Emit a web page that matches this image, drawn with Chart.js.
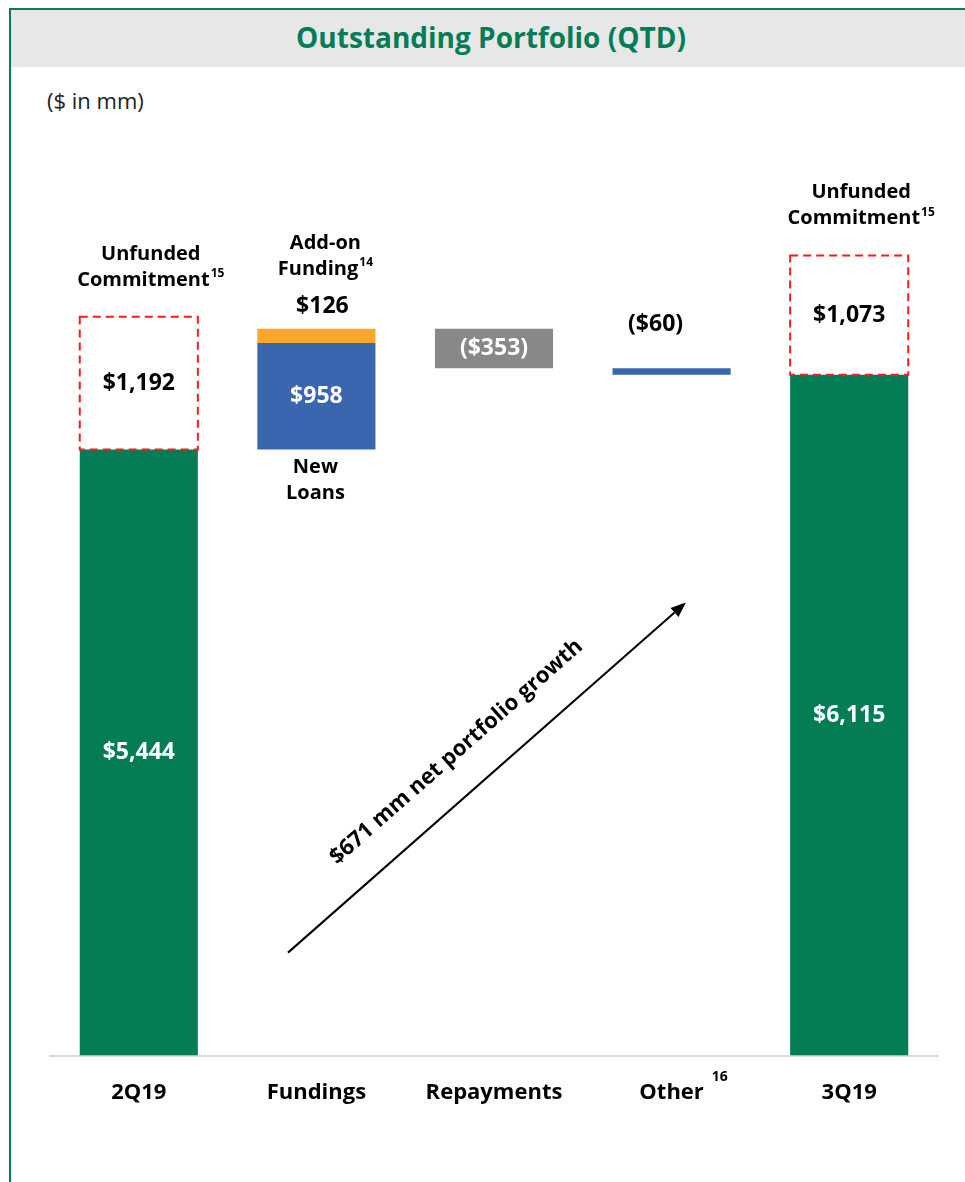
<!DOCTYPE html>
<html>
<head>
<meta charset="utf-8">
<script src="https://cdn.jsdelivr.net/npm/chart.js@4.4.0/dist/chart.umd.min.js"></script>
<style>
  html, body { margin: 0; padding: 0; background: #ffffff; }
  body { width: 965px; height: 1182px; position: relative; overflow: hidden; font-family: 'Open Sans', sans-serif; }
  .frame { position: absolute; left: 9px; top: 8px; width: 980px; height: 1200px;
           border-left: 2px solid #0B7A52; border-top: 2px solid #0B7A52; }
  .header { position: absolute; left: 11px; top: 10px; width: 960px; height: 57px; background: #E7E7E7;
            color: #047D57; font-weight: 700; font-size: 28px; text-align: center; line-height: 55px; }
  .units { position: absolute; left: 47px; top: 85px; font-size: 22px; color: #222; }
  canvas { position: absolute; left: 0; top: 0; }
</style>
</head>
<body>
<div class="frame"></div>
<div class="header">Outstanding Portfolio (QTD)</div>
<div class="units">($ in mm)</div>
<canvas id="chart" width="965" height="1182"></canvas>
<script>
// Quarter-over-quarter portfolio walk ($ in mm)
const categories = ['2Q19', 'Fundings', 'Repayments', 'Other', '3Q19'];
const startBalance = 5444;
const newLoans = 958;
const addOnFunding = 126;
const repayments = -353;
const other = -60;
const endBalance = 6115;
const unfunded = [1192, 1073];          // 2Q19, 3Q19
const netGrowthText = '$671 mm net portfolio growth';

// running levels of the walk
const afterNew = startBalance + newLoans;
const afterAddOn = afterNew + addOnFunding;
const afterRepay = afterAddOn + repayments;
const afterOther = afterRepay + other;

const GREEN = '#047D57', BLUE = '#3A66AF', ORANGE = '#F8A92A', GREY = '#888888', RED = '#FF1A1A';

const balanceData = [[0, startBalance], null, null, null, [0, endBalance]];
const unfundedData = [[startBalance, startBalance + unfunded[0]], null, null, null, [endBalance, endBalance + unfunded[1]]];
const newLoansData = [null, [startBalance, afterNew], null, null, null];
const addOnData = [null, [afterNew, afterAddOn], null, null, null];
const repayData = [null, null, [afterRepay, afterAddOn], null, null];
const otherData = [null, null, null, [afterOther, afterRepay], null];

const fmt = v => '$' + Math.abs(v).toLocaleString('en-US');
const fmtNeg = v => '(' + fmt(v) + ')';

// label specs: dataset index, category index, lines, placement, colour
const labelSpecs = [
  { ds: 0, i: 0, lines: [[fmt(startBalance)]], pos: 'center', color: '#fff', size: 23 },
  { ds: 0, i: 4, lines: [[fmt(endBalance)]], pos: 'center', color: '#fff', size: 23 },
  { ds: 1, i: 0, lines: [[fmt(unfunded[0])]], pos: 'center', color: '#000', size: 23 },
  { ds: 1, i: 4, lines: [[fmt(unfunded[1])]], pos: 'center', color: '#000', size: 23 },
  { ds: 1, i: 0, lines: [['Unfunded'], ['Commitment', '15']], pos: 'above', gap: 37, color: '#000', size: 20, dx: 12 },
  { ds: 1, i: 4, lines: [['Unfunded'], ['Commitment', '15']], pos: 'above', gap: 37, color: '#000', size: 20, dx: 12 },
  { ds: 2, i: 1, lines: [[fmt(newLoans)]], pos: 'center', color: '#fff', size: 23 },
  { ds: 2, i: 1, lines: [['New'], ['Loans']], pos: 'below', gap: 18, color: '#000', size: 20, dx: -1 },
  { ds: 3, i: 1, lines: [[fmt(addOnFunding)]], pos: 'above', gap: 22, color: '#000', size: 23, dx: 6 },
  { ds: 3, i: 1, lines: [['Add-on'], ['Funding', '14']], pos: 'above', gap: 60, color: '#000', size: 20, dx: 9 },
  { ds: 4, i: 2, lines: [[fmtNeg(repayments)]], pos: 'center', color: '#fff', size: 23 },
  { ds: 5, i: 3, lines: [[fmtNeg(other)]], pos: 'above', gap: 44, color: '#000', size: 23, dx: -16 }
];

const LINE_H = 26;

function drawRichLine(ctx, parts, cx, cy, size, color) {
  const mainFont = `700 ${size}px 'Open Sans', sans-serif`;
  const supFont = `700 ${Math.round(size * 0.62)}px 'Open Sans', sans-serif`;
  ctx.font = mainFont;
  const w0 = ctx.measureText(parts[0]).width;
  let w1 = 0;
  if (parts[1]) { ctx.font = supFont; w1 = ctx.measureText(parts[1]).width + 1; }
  const left = cx - (w0 + w1) / 2;
  ctx.fillStyle = color;
  ctx.textBaseline = 'middle';
  ctx.textAlign = 'left';
  ctx.font = mainFont;
  ctx.fillText(parts[0], left, cy);
  if (parts[1]) {
    ctx.font = supFont;
    ctx.fillText(parts[1], left + w0 + 1, cy - size * 0.3);
  }
}

const barLabels = {
  id: 'barLabels',
  afterDatasetsDraw(chart) {
    const ctx = chart.ctx;
    ctx.save();
    labelSpecs.forEach(s => {
      const el = chart.getDatasetMeta(s.ds).data[s.i];
      if (!el) return;
      const top = Math.min(el.y, el.base), bottom = Math.max(el.y, el.base);
      const cx = el.x + (s.dx || 0);
      const n = s.lines.length;
      let firstY;
      if (s.pos === 'center') firstY = (top + bottom) / 2 - (n - 1) * LINE_H / 2;
      else if (s.pos === 'above') firstY = top - s.gap - (n - 1) * LINE_H;
      else firstY = bottom + s.gap;
      s.lines.forEach((parts, k) => drawRichLine(ctx, parts, cx, firstY + k * LINE_H, s.size, s.color));
    });
    ctx.restore();
  }
};

// dashed outline for the unfunded commitment boxes
const dashedBoxes = {
  id: 'dashedBoxes',
  afterDatasetsDraw(chart) {
    const ctx = chart.ctx;
    const meta = chart.getDatasetMeta(1);
    ctx.save();
    ctx.strokeStyle = RED;
    ctx.lineWidth = 2;
    ctx.setLineDash([8, 5]);
    meta.data.forEach((el, i) => {
      if (!unfundedData[i]) return;
      const top = Math.min(el.y, el.base), bottom = Math.max(el.y, el.base);
      ctx.strokeRect(el.x - el.width / 2, top, el.width, bottom - top);
    });
    ctx.restore();
  }
};

// superscript note on the "Other" category label
const tickNote = {
  id: 'tickNote',
  afterDraw(chart) {
    const x = chart.scales.x, ctx = chart.ctx;
    const idx = categories.indexOf('Other');
    ctx.save();
    ctx.font = `700 22px 'Open Sans', sans-serif`;
    const w = ctx.measureText(categories[idx]).width;
    ctx.font = `700 14px 'Open Sans', sans-serif`;
    ctx.fillStyle = '#000';
    ctx.textBaseline = 'middle';
    ctx.textAlign = 'left';
    ctx.fillText('16', x.getPixelForValue(idx) + w / 2 + 8, chart.chartArea.bottom + 21);
    ctx.restore();
  }
};

// growth arrow, positioned in category-index / value space
const arrowFrom = { idx: 0.84, value: 925 };
const arrowTo = { idx: 3.08, value: 4070 };
const growthArrow = {
  id: 'growthArrow',
  afterDatasetsDraw(chart) {
    const { x, y } = chart.scales, ctx = chart.ctx;
    const x0 = x.getPixelForValue(arrowFrom.idx), y0 = y.getPixelForValue(arrowFrom.value);
    const x1 = x.getPixelForValue(arrowTo.idx), y1 = y.getPixelForValue(arrowTo.value);
    const ang = Math.atan2(y1 - y0, x1 - x0);
    const head = 15, hw = 6;
    ctx.save();
    ctx.strokeStyle = '#000';
    ctx.fillStyle = '#000';
    ctx.lineWidth = 2;
    ctx.beginPath();
    ctx.moveTo(x0, y0);
    ctx.lineTo(x1 - head * Math.cos(ang), y1 - head * Math.sin(ang));
    ctx.stroke();
    ctx.beginPath();
    ctx.moveTo(x1, y1);
    ctx.lineTo(x1 - head * Math.cos(ang) + hw * Math.sin(ang), y1 - head * Math.sin(ang) - hw * Math.cos(ang));
    ctx.lineTo(x1 - head * Math.cos(ang) - hw * Math.sin(ang), y1 - head * Math.sin(ang) + hw * Math.cos(ang));
    ctx.closePath();
    ctx.fill();
    // caption along the arrow, lifted off the line
    const mx = (x0 + x1) / 2 - 8, my = (y0 + y1) / 2;
    const off = 34;
    ctx.translate(mx + off * Math.sin(ang), my - off * Math.cos(ang));
    ctx.rotate(ang);
    ctx.font = `700 22px 'Open Sans', sans-serif`;
    ctx.textAlign = 'center';
    ctx.textBaseline = 'middle';
    ctx.fillText(netGrowthText, 0, 0);
    ctx.restore();
  }
};

Chart.defaults.font.family = "'Open Sans', sans-serif";

new Chart(document.getElementById('chart'), {
  type: 'bar',
  data: {
    labels: categories,
    datasets: [
      { label: 'Outstanding', data: balanceData, backgroundColor: GREEN },
      { label: 'Unfunded Commitment', data: unfundedData, backgroundColor: 'rgba(255,255,255,0)' },
      { label: 'New Loans', data: newLoansData, backgroundColor: BLUE },
      { label: 'Add-on Funding', data: addOnData, backgroundColor: ORANGE },
      { label: 'Repayments', data: repayData, backgroundColor: GREY },
      { label: 'Other', data: otherData, backgroundColor: BLUE }
    ]
  },
  options: {
    responsive: false,
    animation: false,
    categoryPercentage: 1,
    barPercentage: 0.665,
    borderSkipped: false,
    layout: { padding: { left: 50, right: 27, top: 165, bottom: 52 } },
    plugins: { legend: { display: false }, tooltip: { enabled: false } },
    scales: {
      x: {
        stacked: true,
        grid: { display: false, drawTicks: false },
        border: { display: true, color: '#D9D9D9', width: 2 },
        ticks: { color: '#000', padding: 24, font: { size: 22, weight: '700' } }
      },
      y: {
        stacked: false,
        display: false,
        min: 0,
        max: 8000
      }
    }
  },
  plugins: [dashedBoxes, growthArrow, barLabels, tickNote]
});
</script>
</body>
</html>
